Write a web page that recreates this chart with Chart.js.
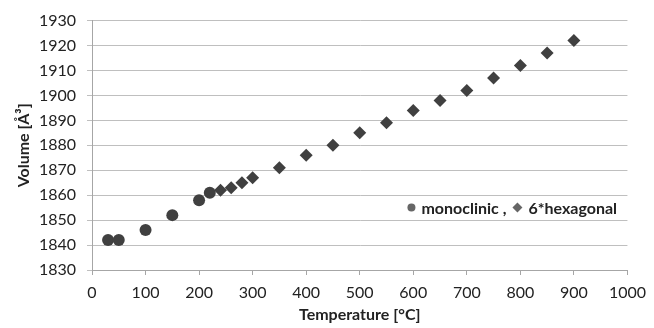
<!DOCTYPE html>
<html>
<head>
<meta charset="utf-8">
<script src="https://cdn.jsdelivr.net/npm/chart.js@4"></script>
<style>
  html, body { margin: 0; padding: 0; background: #fff; }
  #wrap { width: 654px; height: 328px; }
</style>
</head>
<body>
<div id="wrap"><canvas id="container"></canvas></div>
<script>
"use strict";

// temperature [°C] / volume [Å³]
const monoT = [30, 50, 100, 150, 200, 220];
const monoV = [1842, 1842, 1846, 1852, 1858, 1861];

const hexT = [240, 260, 280, 300, 350, 400, 450, 500, 550, 600, 650, 700, 750, 800, 850, 900];
const hexV = [1862, 1863, 1865, 1867, 1871, 1876, 1880, 1885, 1889, 1894, 1898, 1902, 1907, 1912, 1917, 1922];

const xTicks = [0, 100, 200, 300, 400, 500, 600, 700, 800, 900, 1000];
const yTicks = [1830, 1840, 1850, 1860, 1870, 1880, 1890, 1900, 1910, 1920, 1930];

const FONT = "Lato, 'Open Sans', sans-serif";
const markColor = "#404040";

function toPoints(xs, ys) {
    return xs.map((x, i) => ({ x: x, y: ys[i] }));
}

// legend drawn inside the plot, like the original one
const insideLegend = {
    id: "insideLegend",
    afterDraw(chart) {
        const c = chart.ctx;
        const area = chart.chartArea;
        const y = area.top + 188;
        const x0 = area.right - 220;
        c.save();
        c.fillStyle = "#fff";
        c.fillRect(x0 - 6, y - 10, 228, 20);
        c.font = "bold 16px " + FONT;
        c.textBaseline = "middle";
        c.fillStyle = "#666";
        c.beginPath();
        c.arc(x0 + 4, y - 1, 4, 0, Math.PI * 2);
        c.fill();
        c.fillStyle = "#222";
        c.fillText("monoclinic ,", x0 + 14, y);
        const w = c.measureText("monoclinic ,").width;
        const dx = x0 + 14 + w + 11;
        c.fillStyle = "#666";
        c.beginPath();
        c.moveTo(dx, y - 6);
        c.lineTo(dx + 5, y - 1);
        c.lineTo(dx, y + 4);
        c.lineTo(dx - 5, y - 1);
        c.closePath();
        c.fill();
        c.fillStyle = "#222";
        c.fillText("6*hexagonal", dx + 11, y);
        c.restore();
    }
};

var ctx = document.getElementById("container").getContext("2d");
var dataChart = new Chart(ctx, {
    type: "scatter",
    data: {
        datasets: [{
            label: "monoclinic",
            data: toPoints(monoT, monoV),
            pointStyle: "circle",
            pointRadius: 6,
            backgroundColor: markColor,
            borderWidth: 0,
        }, {
            label: "6*hexagonal",
            data: toPoints(hexT, hexV),
            pointStyle: "rectRot",
            pointRadius: 6.5,
            backgroundColor: markColor,
            borderWidth: 0,
        }]
    },
    options: {
        responsive: true,
        maintainAspectRatio: false,
        animation: false,
        layout: { padding: { top: 20, right: 22, left: 10, bottom: 0 } },
        plugins: {
            legend: { display: false },
            tooltip: { enabled: false },
        },
        scales: {
            x: {
                type: "linear",
                min: 0,
                max: 1000,
                afterBuildTicks: (s) => { s.ticks = xTicks.map(v => ({ value: v })); },
                afterFit: (s) => { s.height = 58; },
                grid: { drawOnChartArea: false, color: "#a6a6a6", tickLength: 5 },
                border: { color: "#a6a6a6" },
                ticks: { color: "#222", font: { family: FONT, size: 16 }, padding: 8, maxRotation: 0, callback: (v) => String(v) },
                title: { display: true, text: "Temperature [°C]", color: "#222", font: { family: FONT, size: 16, weight: "bold" }, padding: { top: 7 } },
            },
            y: {
                type: "linear",
                min: 1830,
                max: 1930,
                afterBuildTicks: (s) => { s.ticks = yTicks.map(v => ({ value: v })); },
                afterFit: (s) => { s.width = 82; },
                grid: { color: "#bfbfbf", tickLength: 5 },
                border: { color: "#a6a6a6" },
                ticks: { color: "#222", font: { family: FONT, size: 16 }, padding: 11, callback: (v) => String(v) },
                title: { display: true, text: "Volume [Å³]", color: "#222", font: { family: FONT, size: 16, weight: "bold" }, padding: { bottom: 2 } },
            }
        }
    },
    plugins: [insideLegend]
});
</script>
</body>
</html>
